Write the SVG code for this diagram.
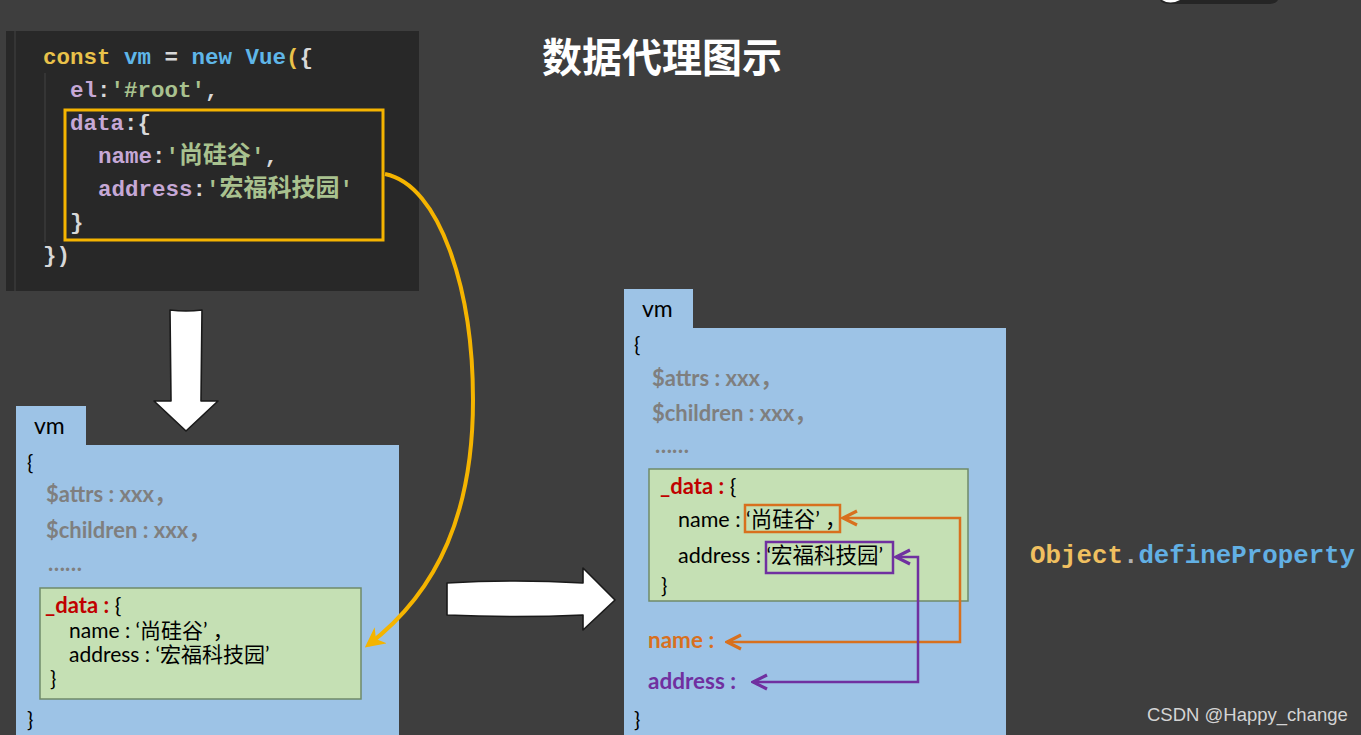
<svg xmlns="http://www.w3.org/2000/svg" width="1361" height="735" viewBox="0 0 1361 735">
<style>
.code{font-family:"Liberation Mono","Noto Sans CJK SC",monospace;font-size:22.5px;font-weight:bold}
.kw{fill:#e9c24a}.bl{fill:#5fb6e8}.pu{fill:#c6a8d6}.gr{fill:#a9c28f}.wh{fill:#d8d8d8}
.t{font-family:"Lato","Noto Sans CJK SC",sans-serif;fill:#000}
.g{font-family:"Lato","Noto Sans CJK SC",sans-serif;font-weight:bold;fill:#7f7f7f;font-size:22px}
.red{fill:#c00000;font-weight:bold}
.box{fill:#9dc3e6}
.green{fill:#c5e0b4;stroke:#6f8a6a;stroke-width:1.5}
.barrow{fill:#ffffff;stroke:#1a1a1a;stroke-width:1.6;stroke-linejoin:round}
</style>
<defs>
<marker id="ay" viewBox="0 0 10 10" refX="8" refY="5" markerWidth="5" markerHeight="5" orient="auto"><path d="M0,0 L10,5 L0,10 L3,5 Z" fill="#f5b400"/></marker>
<marker id="ao" viewBox="0 0 10 10" refX="9" refY="5" markerWidth="7" markerHeight="7" orient="auto-start-reverse"><path d="M1,1 L9,5 L1,9" fill="none" stroke="#d8701e" stroke-width="1.8"/></marker>
<marker id="ap" viewBox="0 0 10 10" refX="9" refY="5" markerWidth="7" markerHeight="7" orient="auto-start-reverse"><path d="M1,1 L9,5 L1,9" fill="none" stroke="#7030a0" stroke-width="1.8"/></marker>
</defs>
<rect width="1361" height="735" fill="#3e3e3e"/>
<path d="M1160,0 H1278 Q1276,4 1268,4 H1170 Q1162,4 1160,0 Z" fill="#252525"/>
<path d="M1162,0 Q1170,5 1180,0 Z" fill="#ffffff"/>

<g id="code">
<rect x="6" y="31" width="413" height="260" fill="#282828"/>
<line x1="15" y1="31" x2="15" y2="291" stroke="#3a3a3a" stroke-width="1.5"/>
<line x1="45" y1="73" x2="45" y2="242" stroke="#3a3a3a" stroke-width="1.5"/>
<text class="code" x="43" y="64"><tspan class="kw">const</tspan><tspan class="bl"> vm </tspan><tspan class="wh">=</tspan><tspan class="bl"> new Vue</tspan><tspan class="kw">(</tspan><tspan class="wh">{</tspan></text>
<text class="code" x="70" y="97"><tspan class="pu">el</tspan><tspan class="wh">:</tspan><tspan class="gr">'#root'</tspan><tspan class="wh">,</tspan></text>
<text class="code" x="70" y="130"><tspan class="pu">data</tspan><tspan class="wh">:{</tspan></text>
<text class="code" x="98" y="163"><tspan class="pu">name</tspan><tspan class="wh">:</tspan><tspan class="gr">'<tspan font-size="24">尚硅谷</tspan>'</tspan><tspan class="wh">,</tspan></text>
<text class="code" x="98" y="196"><tspan class="pu">address</tspan><tspan class="wh">:</tspan><tspan class="gr">'<tspan font-size="24">宏福科技园</tspan>'</tspan></text>
<text class="code wh" x="70" y="229">}</text>
<text class="code wh" x="43" y="262">})</text>
<rect x="65" y="110" width="318" height="130" fill="none" stroke="#f5b400" stroke-width="3"/>
</g>

<g id="title">
<text x="662" y="72" text-anchor="middle" font-family="'Noto Sans CJK SC',sans-serif" font-weight="bold" font-size="40" fill="#ffffff">数据代理图示</text>
</g>

<g id="vm-left">
<rect class="box" x="16" y="406" width="70" height="40"/>
<rect class="box" x="16" y="445" width="383" height="290"/>
<text class="t" x="34" y="434" font-size="23">vm</text>
<text class="t" x="27" y="470" font-size="21">{</text>
<text class="g" x="46" y="502">$attrs : xxx，</text>
<text class="g" x="46" y="538">$children : xxx，</text>
<text class="g" x="48" y="571">……</text>
<rect class="green" x="40" y="588" width="321" height="111"/>
<text class="t" x="45" y="613" font-size="22"><tspan class="red">_data :</tspan> {</text>
<text class="t" x="69" y="638" font-size="21">name : ‘尚硅谷’ ，</text>
<text class="t" x="69" y="662" font-size="21">address : ‘宏福科技园’</text>
<text class="t" x="50" y="686" font-size="21">}</text>
<text class="t" x="27" y="727" font-size="21">}</text>
</g>

<g id="vm-right">
<rect class="box" x="624" y="289" width="69" height="40"/>
<rect class="box" x="624" y="328" width="382" height="407"/>
<text class="t" x="642" y="317" font-size="23">vm</text>
<text class="t" x="634" y="352" font-size="21">{</text>
<text class="g" x="652" y="386">$attrs : xxx，</text>
<text class="g" x="652" y="421">$children : xxx，</text>
<text class="g" x="655" y="453">……</text>
<rect class="green" x="649" y="469" width="319" height="132"/>
<text class="t" x="660" y="494" font-size="22"><tspan class="red">_data :</tspan> {</text>
<text class="t" x="678" y="527" font-size="21.5">name : ‘尚硅谷’ ，</text>
<text class="t" x="678" y="563" font-size="21.5">address : ‘宏福科技园’</text>
<text class="t" x="661" y="593" font-size="21">}</text>
<rect x="745" y="505" width="95" height="27" fill="none" stroke="#d8701e" stroke-width="2.5"/>
<rect x="766" y="542" width="127" height="31" fill="none" stroke="#7030a0" stroke-width="2.5"/>
<text x="648" y="648" font-family="Lato,sans-serif" font-weight="bold" font-size="22.5" fill="#d8701e">name :</text>
<text x="648" y="689" font-family="Lato,sans-serif" font-weight="bold" font-size="22.5" fill="#7030a0">address :</text>
<text class="t" x="634" y="727" font-size="21">}</text>
</g>

<g id="object-define">
<text x="1030" y="563" font-family="'Liberation Mono',monospace" font-weight="bold" font-size="25.8"><tspan fill="#f0c060">Object</tspan><tspan fill="#b0b0b0">.</tspan><tspan fill="#62b0e4">defineProperty</tspan></text>
</g>

<g id="connectors">
<path d="M385,174 C440,185 473,290 473,400 C473,510 440,590 368,645" fill="none" stroke="#f5b400" stroke-width="4" marker-end="url(#ay)"/>
<path d="M843,518 H960 V642 H727" fill="none" stroke="#d8701e" stroke-width="2.5" marker-start="url(#ao)" marker-end="url(#ao)"/>
<path d="M896,557 H918 V682 H753" fill="none" stroke="#7030a0" stroke-width="2.5" marker-start="url(#ap)" marker-end="url(#ap)"/>
<path class="barrow" d="M170,310 Q186,312 202,310 L201,401 L218,401 L186,431 L154,401 L171,401 Z"/>
<path class="barrow" d="M447,583 Q515,579 583,583 L583,568 L615,600 L583,630 L583,615 Q515,618 447,615 Z"/>
</g>

<g id="watermark">
<text x="1147" y="721" font-family="'Liberation Sans',sans-serif" font-size="18.5" fill="#d4d4d4">CSDN @Happy_change</text>
</g>
</svg>
